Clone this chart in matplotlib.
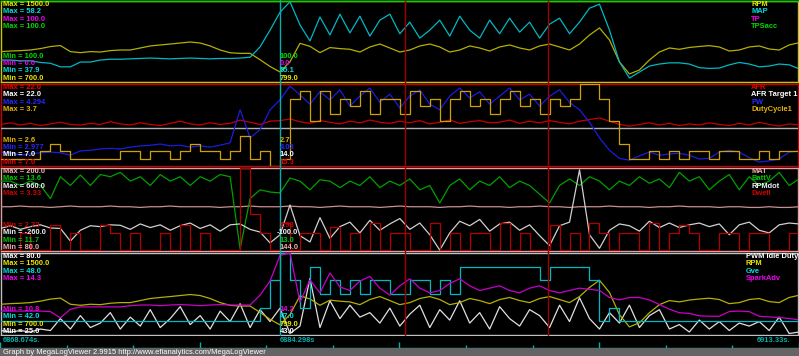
import numpy as np
import matplotlib.pyplot as plt

plt.rcParams['font.family'] = ['Liberation Sans', 'DejaVu Sans']

W, H = 799, 356
FS = 5.4

T_START = 6868.674
T_END = 6913.33
T_CURSOR = 6884.298
T_MARKS = [6891.31, 6899.30]
DT = 0.559   # log sample spacing used for the traces below

# ---------------- panel 1 ----------------
rpm = [1000, 1006, 1010, 1016, 1030, 1050, 1060, 1000, 990, 1000,
       996, 1010, 1016, 1016, 1036, 1056, 1066, 1075, 1085, 1095,
       1085, 1056, 1016, 989, 983, 983, 920, 853, 799, 900,
       1082, 1052, 990, 1040, 1030, 1023, 996, 1046, 1075, 1036,
       996, 1016, 1056, 1075, 1046, 996, 1016, 1056, 1036, 1006,
       1046, 1066, 1036, 1016, 1056, 1075, 1046, 1016, 1075, 1164,
       1234, 1115, 898, 779, 819, 917, 996, 1036, 1023, 1041,
       1051, 1059, 1046, 1006, 1016, 1046, 1056, 1026, 1016, 1066,
       1088]
map_kpa = [43.4, 43.4, 43.2, 43.2, 42.8, 42.6, 41.7, 41.7, 42.9, 42.9,
           43.4, 43.6, 43.6, 43.7, 43.8, 43.9, 43.8, 43.7, 43.8, 43.9,
           43.8, 43.7, 43.8, 43.8, 43.9, 44.1, 46.7, 50.9, 55.4, 58.0,
           52.2, 48.2, 54.2, 49.7, 54.9, 50.2, 54.4, 49.4, 53.4, 54.9,
           50.0, 52.9, 48.9, 50.9, 53.4, 49.4, 54.4, 50.9, 48.9, 53.4,
           50.0, 53.9, 50.4, 52.9, 48.9, 52.4, 53.9, 50.0, 52.9, 56.4,
           57.4, 50.9, 42.9, 38.9, 40.4, 41.9, 42.4, 42.7, 42.7, 42.4,
           41.5, 41.3, 41.4, 42.2, 42.8, 42.4, 41.7, 41.9, 42.4, 42.2,
           41.2]
tp = 0.0
tps_acc = 100.0

# ---------------- panel 2 ----------------
afr = [14.6, 14.9, 14.5, 14.8, 14.4, 14.7, 15.0, 14.6, 14.5, 14.8,
       14.6, 15.1, 14.7, 14.5, 14.9, 14.6, 14.4, 14.8, 15.2, 14.7,
       14.5, 14.9, 14.6, 14.8, 15.4, 15.0, 14.6, 15.2, 15.3, 15.6,
       15.1, 14.8, 15.3, 15.0, 14.7, 15.2, 14.9, 15.4, 15.0, 14.8,
       15.2, 14.9, 15.3, 14.7, 15.0, 15.4, 14.8, 15.1, 15.3, 14.9,
       15.0, 15.4, 14.8, 15.2, 14.9, 15.3, 15.0, 14.7, 15.2, 15.5,
       15.8, 15.2, 14.6, 14.3, 14.6, 14.9, 14.5, 14.8, 14.4, 14.7,
       14.5, 14.9, 14.6, 14.4, 14.8, 14.5, 15.0, 14.6, 14.3, 14.7,
       14.5]
afr_target = 14.0
pw = [3.20, 3.19, 3.15, 3.17, 3.19, 3.20, 3.19, 3.15, 3.22, 3.23,
      3.25, 3.26, 3.25, 3.28, 3.30, 3.31, 3.33, 3.30, 3.31, 3.28,
      3.30, 3.28, 3.31, 3.35, 3.88, 3.43, 3.56, 3.88, 4.04, 4.26,
      4.12, 3.97, 4.17, 4.04, 4.20, 3.94, 4.10, 4.23, 4.00, 4.13,
      3.91, 4.10, 4.20, 3.97, 3.88, 4.10, 4.23, 4.07, 4.17, 3.97,
      4.10, 4.23, 4.04, 4.13, 3.94, 4.10, 4.20, 4.00, 3.88, 3.68,
      3.43, 3.23, 3.10, 3.07, 3.14, 3.20, 3.15, 3.17, 3.18, 3.15,
      3.09, 3.10, 3.20, 3.23, 3.20, 3.11, 3.04, 3.06, 3.09, 3.20,
      3.22]
duty = [2.7, 2.7, 2.7, 2.7, 2.8, 2.9, 2.8, 2.7, 2.7, 2.7,
        2.7, 2.7, 2.8, 2.8, 2.7, 2.8, 2.8, 2.7, 2.8, 2.9,
        2.8, 2.8, 2.7, 2.8, 3.0, 2.7, 2.8, 2.6, 2.7, 3.5,
        3.6, 3.2, 3.6, 3.3, 3.5, 3.4, 3.6, 3.3, 3.5, 3.5,
        3.3, 3.6, 3.4, 3.5, 3.2, 3.5, 3.6, 3.4, 3.5, 3.3,
        3.5, 3.6, 3.4, 3.5, 3.3, 3.5, 3.4, 3.5, 3.7, 3.7,
        3.5, 3.2, 2.9, 2.7, 2.7, 2.8, 2.7, 2.8, 2.7, 2.8,
        2.8, 2.7, 2.8, 2.8, 2.7, 2.7, 2.8, 2.7, 2.8, 2.8,
        2.9]

# ---------------- panel 3 ----------------
mat = [144, 144, 145, 144, 144, 143, 144, 145, 144, 144,
       144, 145, 144, 144, 143, 144, 144, 145, 144, 144,
       144, 144, 143, 144, 144, 145, 144, 144, 144, 145,
       144, 144, 143, 144, 145, 144, 144, 144, 143, 144,
       145, 144, 144, 144, 143, 144, 144, 145, 144, 144,
       144, 143, 144, 144, 145, 144, 144, 143, 144, 144,
       144, 145, 144, 144, 144, 143, 144, 144, 145, 144,
       144, 144, 143, 144, 144, 143, 143, 144, 143, 143,
       144]
battv = [13.3, 13.3, 13.2, 13.3, 13.2, 12.9, 13.4, 13.2, 13.44, 13.2,
         13.45, 13.4, 13.5, 13.3, 13.4, 13.2, 13.45, 13.3, 13.4, 13.2,
         13.4, 13.3, 13.45, 13.4, 11.75, 12.9, 13.1, 13.05, 13.03, 13.37,
         13.3, 13.1, 13.33, 13.3, 13.15, 13.3, 13.2, 13.4, 13.15, 13.3,
         13.2, 13.35, 13.1, 13.2, 12.8, 13.2, 13.35, 13.1, 13.3, 13.2,
         13.4, 13.15, 13.3, 13.2, 13.0, 12.8, 13.2, 13.35, 13.2, 13.4,
         13.3, 13.1, 13.3, 13.2, 13.4, 13.25, 13.35, 13.15, 13.5, 13.3,
         13.4, 13.1, 13.3, 13.45, 13.1, 13.4, 13.2, 13.3, 13.5, 13.2,
         13.35]
rpmdot = [-10, 20, -20, 10, 30, -5, -10, -150, -30, 20,
          10, 30, 25, -20, 40, 0, 30, -30, 20, 50,
          -10, 30, -40, 30, 40, -20, -50, -170, -80, 250,
          -90, -160, 110, -120, 10, 60, -60, 80, -30, 40,
          100, -20, 50, -80, -250, -60, 70, 20, 90, -40,
          40, 60, -30, 30, -90, -200, 20, 60, 640, -80,
          -230, -30, 40, 20, -40, 70, 0, 50, 0, 30,
          50, 10, 40, -80, 30, 60, -30, -60, 30, 50,
          40]
dwell = [2.74, 2.74, 2.86, 2.74, 2.74, 2.92, 2.74, 2.86, 2.74, 2.74,
         2.92, 2.86, 2.74, 2.86, 2.74, 2.74, 2.86, 2.74, 2.92, 2.74,
         2.86, 2.74, 2.74, 2.74, 3.33, 3.00, 2.86, 2.74, 2.93, 2.74,
         2.86, 2.86, 2.74, 2.90, 2.74, 2.86, 2.74, 2.93, 2.74, 2.86,
         2.86, 2.74, 2.74, 2.93, 2.74, 2.86, 2.74, 2.86, 2.86, 2.74,
         2.93, 2.74, 2.86, 2.74, 2.74, 2.92, 2.74, 2.86, 2.74, 2.93,
         2.86, 2.74, 2.86, 2.86, 2.74, 2.93, 2.74, 2.86, 2.92, 2.86,
         2.74, 2.74, 2.86, 2.86, 2.74, 2.86, 2.86, 2.74, 2.74, 2.86,
         2.74]

# ---------------- panel 4 ----------------
pwm_idle = [28, 27, 28, 27, 29, 28, 36, 29, 38, 30,
            33, 40, 29, 37, 31, 42, 30, 36, 44, 32,
            38, 29, 41, 34, 46, 30, 42, 34, 43, 26,
            31, 63, 30, 48, 36, 45, 37, 40, 33, 43,
            31, 39, 45, 30, 42, 35, 48, 33, 40, 29,
            44, 36, 31, 42, 38, 30, 45, 34, 50, 36,
            29, 40, 33, 45, 30, 38, 42, 29, 32, 27,
            35, 29, 34, 28, 33, 31, 34, 28, 37, 26,
            27]
gve = [43, 43, 43, 43, 43, 43, 43, 43, 43, 43,
       43, 43, 43, 43, 43, 43, 43, 43, 43, 43,
       43, 43, 43, 43, 43, 43, 44, 46, 48, 46,
       44, 47, 45, 46, 45, 46, 45, 46, 46, 45,
       45, 46, 46, 45, 46, 45, 47, 47, 47, 47,
       47, 47, 47, 47, 46, 47, 47, 47, 47, 46,
       43, 44, 43, 43, 43, 43, 43, 43, 43, 43,
       43, 43, 43, 43, 43, 43, 43, 43, 43, 43,
       43]
spark = [11.82, 11.82, 11.82, 11.82, 11.82, 11.80, 11.53, 11.90, 12.00, 12.00,
         12.00, 12.00, 12.00, 12.05, 12.08, 12.08, 12.05, 12.08, 12.10, 12.08,
         12.05, 12.08, 12.10, 12.08, 12.08, 12.08, 12.50, 13.10, 14.20, 14.30,
         12.20, 13.15, 12.60, 13.45, 12.85, 12.70, 13.10, 13.30, 12.80, 12.50,
         12.90, 13.20, 12.80, 12.60, 12.70, 13.00, 13.20, 12.90, 12.70, 12.80,
         12.90, 12.70, 12.60, 12.80, 12.90, 12.70, 12.60, 12.70, 12.80, 12.75,
         12.70, 12.40, 12.30, 12.40, 12.40, 12.30, 12.10, 11.90, 11.75, 11.72,
         11.62, 11.60, 11.60, 11.80, 11.82, 11.80, 11.60, 11.57, 11.55, 11.50,
         11.45]

# labels: names, Max / Min of each scale, value under the cursor
p1_names = ['RPM', 'MAP', 'TP', 'TPSacc']
p1_max = ['1500.0', '58.2', '100.0', '100.0']
p1_min = ['700.0', '37.9', '0.0', '100.0']
p1_cur = ['799.0', '55.1', '0.0', '100.0']
p2_names = ['AFR', 'AFR Target 1', 'PW', 'DutyCycle1']
p2_max = ['22.0', '22.0', '4.294', '3.7']
p2_min = ['7.0', '7.0', '2.977', '2.6']
p2_cur = ['15.3', '14.0', '4.03', '2.7']
p3_names = ['MAT', 'BattV', 'RPMdot', 'Dwell']
p3_max = ['200.0', '13.6', '660.0', '3.33']
p3_min = ['80.0', '11.7', '-260.0', '2.73']
p3_cur = ['144.0', '13.0', '-100.0', '2.93']
p4_names = ['PWM Idle Duty', 'RPM', 'Gve', 'SparkAdv']
p4_max = ['80.0', '1500.0', '48.0', '14.3']
p4_min = ['25.0', '700.0', '42.0', '10.8']
p4_cur = ['43.0', '799.0', '47.0', '14.2']

# text colour, trace colour
YEL, YEL_LN = '#E8E800', '#B4B000'
CYA, CYA_LN = '#00E0E0', '#00B8C4'
MAG, MAG_LN = '#F000F0', '#C800C8'
GRN, GRN_LN = '#00D800', '#00D800'
RED, RED_LN = '#F00000', '#C80000'
WHT, WHT_LN = '#FFFFFF', '#B0B0B0'
BLU, BLU_LN = '#2828FF', '#1C1CE0'
GLD, GLD_LN = '#E8B400', '#D0A000'
PNK, PNK_LN = '#F4B0B0', '#C89090'
BGR, BGR_LN = '#00C800', '#00A000'
RDM, RDM_LN = '#F0F0F0', '#D0D0D0'
DRD, DRD_LN = '#D00000', '#B00000'
TEAL = '#00B0B0'

t = T_START + DT * np.arange(len(rpm))

panels = [
    # top, bottom, frame, names, max, min, cursor, data, text col, line col, steps, legend x
    (1, 82, '#C8C800', p1_names, p1_max, p1_min, p1_cur,
     [rpm, map_kpa, tp, tps_acc], [YEL, CYA, MAG, GRN], [YEL_LN, CYA_LN, MAG_LN, GRN_LN],
     [False, False, False, False], 751),
    (84, 166, '#C80000', p2_names, p2_max, p2_min, p2_cur,
     [afr, afr_target, pw, duty], [RED, WHT, BLU, GLD], [RED_LN, WHT_LN, BLU_LN, GLD_LN],
     [False, False, False, True], 751),
    (168, 251, '#E0A0A0', p3_names, p3_max, p3_min, p3_cur,
     [mat, battv, rpmdot, dwell], [PNK, BGR, RDM, DRD], [PNK_LN, BGR_LN, RDM_LN, DRD_LN],
     [False, False, False, True], 751),
    (253, 335, '#C0C0C0', p4_names, p4_max, p4_min, p4_cur,
     [pwm_idle, rpm, gve, spark], [WHT, YEL, CYA, MAG], ['#E0E0E0', YEL_LN, CYA_LN, MAG_LN],
     [False, False, True, False], 746),
]

fig = plt.figure(figsize=(W / 100, H / 100), dpi=100, facecolor='black')


def put(x, y, s, c, ha='left', weight='bold'):
    fig.text(x / W, 1 - y / H, s, color=c, fontsize=FS, fontweight=weight,
             ha=ha, va='center')


for (top, bot, frame, names, maxs, mins, curs, series, tcol, lcol,
     steps, leg_x) in panels:
    ax = fig.add_axes([0.5 / W, 1 - bot / H, 797.5 / W, (bot - top) / H])
    ax.set_facecolor('black')
    ax.set_xlim(T_START, T_END)
    ax.set_xticks([])
    ax.set_yticks([])
    for sp in ax.spines.values():
        sp.set_color(frame)
        sp.set_linewidth(1.0)

    for i, vals in enumerate(series):
        lo, hi = float(mins[i]), float(maxs[i])
        if hi <= lo:
            lo = hi - 1
        sub = ax.twinx()   # every trace keeps its own scale
        sub.set_ylim(lo, hi)
        sub.set_yticks([])
        sub.patch.set_visible(False)
        for sp in sub.spines.values():
            sp.set_visible(False)
        if np.isscalar(vals):
            sub.axhline(vals, color=lcol[i], lw=1.0, clip_on=vals < hi)
        else:
            sub.plot(t, vals, color=lcol[i], lw=0.9,
                     drawstyle='steps-post' if steps[i] else 'default')

    # Max labels + legend at the top, Min labels + cursor values at the bottom
    for i in range(4):
        y = top + 3.5 + i * 7.3
        put(3, y, 'Max = ' + maxs[i], tcol[i])
        put(leg_x, y, names[i], tcol[i])
        yb = bot - 3.7 - i * 7.3
        put(3, yb, 'Min = ' + mins[i], tcol[i])
        cx = 279.5 - (3 if curs[i].startswith('-') else 0)
        put(cx, yb, curs[i], tcol[i])

# cursor and markers over all panels
ov = fig.add_axes([0, 1 - 348 / H, 1, 348 / H])
ov.set_xlim(T_START, T_END)
ov.set_ylim(0, 1)
ov.axis('off')
for m in T_MARKS:
    ov.axvline(m, ymin=13 / 348, ymax=1, color='#A00000', lw=1.0)
ov.axvline(T_CURSOR, color=TEAL, lw=1.0)

# time strip
ts = fig.add_axes([0, 1 - 348 / H, 1, 12 / H])
ts.set_facecolor('black')
ts.set_xlim(T_START, T_END)
ts.set_ylim(0, 12)
ts.set_xticks([])
ts.set_yticks([])
for sp in ts.spines.values():
    sp.set_visible(False)
tick_t = np.linspace(T_START, T_END, 13)
for k, tk in enumerate(tick_t):
    ts.vlines(tk, 0, 6.5 if k % 3 == 0 else 3.5, color=TEAL, lw=1.0)
ts.axhline(0.5, color=TEAL, lw=1.0)
put(3, 341, '6868.674s.', TEAL)
put(279.5, 341, '6884.298s', TEAL)
put(790, 341, '6913.33s.', TEAL, ha='right')

# footer bar
fb = fig.add_axes([0, 0, 1, 8 / H])
fb.set_facecolor('#646464')
fb.set_xticks([])
fb.set_yticks([])
for sp in fb.spines.values():
    sp.set_visible(False)
put(3, 352, 'Graph by MegaLogViewer 2.9915 http://www.efianalytics.com/MegaLogViewer',
    'white', weight='normal')

fig.savefig('out.png', dpi=100, facecolor='black')
